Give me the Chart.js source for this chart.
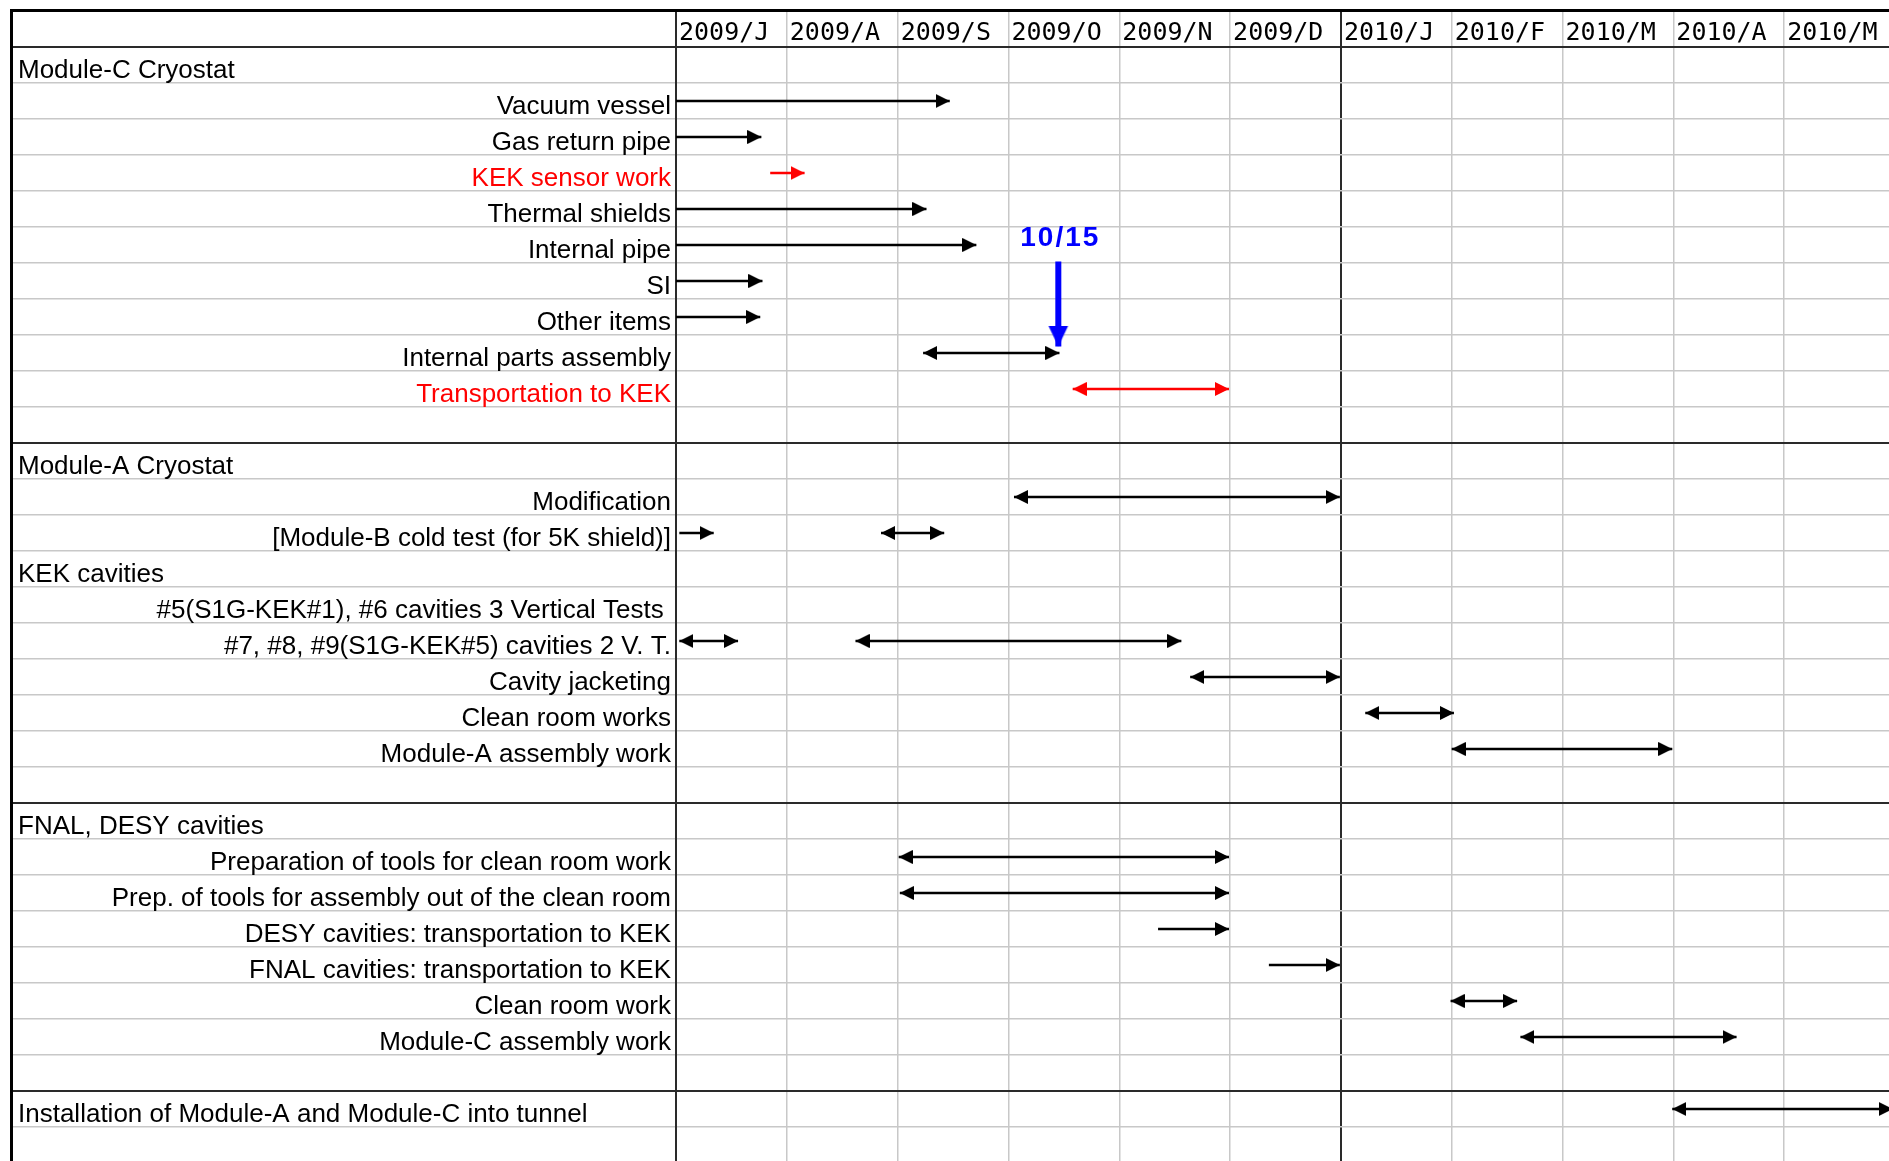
<!DOCTYPE html>
<html>
<head>
<meta charset="utf-8">
<title>Schedule</title>
<script src="https://cdn.jsdelivr.net/npm/chart.js@4/dist/chart.umd.min.js"></script>
<style>
  html, body { margin: 0; padding: 0; overflow: hidden; background: #fff; }
  #sheet { position: absolute; left: 10px; top: 9px; border-left: 3px solid #000; border-top: 3px solid #000; }
  canvas { display: block; }
</style>
</head>
<body>
<div id="sheet"><canvas id="plan" width="1882" height="1151" style="width:1882px;height:1151px"></canvas></div>
<script>
// months counted from 1 Jul 2009
const monthLabels = ['2009/J', '2009/A', '2009/S', '2009/O', '2009/N', '2009/D', '2010/J', '2010/F', '2010/M', '2010/A', '2010/M'];

const rowLabels = [
  '', 'Vacuum vessel', 'Gas return pipe', 'KEK sensor work', 'Thermal shields', 'Internal pipe', 'SI', 'Other items',
  'Internal parts assembly', 'Transportation to KEK', '',
  '', 'Modification', '[Module-B cold test (for 5K shield)]', '', '#5(S1G-KEK#1), #6 cavities 3 Vertical Tests ',
  '#7, #8, #9(S1G-KEK#5) cavities 2 V. T.', 'Cavity jacketing', 'Clean room works', 'Module-A assembly work', '',
  '', 'Preparation of tools for clean room work', 'Prep. of tools for assembly out of the clean room',
  'DESY cavities: transportation to KEK', 'FNAL cavities: transportation to KEK', 'Clean room work', 'Module-C assembly work', '',
  '', ''
];
const sectionRows = [0, 11, 14, 21, 29];
const sectionNames = ['Module-C Cryostat', 'Module-A Cryostat', 'KEK cavities', 'FNAL, DESY cavities', 'Installation of Module-A and Module-C into tunnel'];
const redRows = [3, 9];
const darkRowLines = [0, 11, 21, 29];
const darkMonthLines = [0, 6];

const taskRow   = [1, 2, 3, 4, 5, 6, 7, 8, 9, 12, 13, 13, 16, 16, 17, 18, 19, 22, 23, 24, 25, 26, 27, 29];
const taskStart = [0, 0, 0.85, 0, 0, 0, 0, 2.23, 3.58, 3.05, 0.03, 1.85, 0.03, 1.62, 4.64, 6.22, 7.0, 2.01, 2.02, 4.35, 5.35, 6.99, 7.62, 8.99];
const taskEnd   = [2.47, 0.77, 1.16, 2.26, 2.71, 0.78, 0.76, 3.46, 4.99, 5.99, 0.34, 2.42, 0.56, 4.56, 5.99, 7.02, 8.99, 4.99, 4.99, 4.99, 5.99, 7.59, 9.57, 10.98];
const taskBoth  = [0, 0, 0, 0, 0, 0, 0, 1, 1, 1, 0, 1, 1, 1, 1, 1, 1, 1, 1, 0, 0, 1, 1, 1];
const taskRed   = [0, 0, 1, 0, 0, 0, 0, 0, 1, 0, 0, 0, 0, 0, 0, 0, 0, 0, 0, 0, 0, 0, 0, 0];

const milestoneText = '10/15';
const milestoneX = 3.45;
const milestoneTop = 5.46;
const milestoneTip = 7.82;
const milestoneTextY = 5.03;

const sectionLabels = rowLabels.map((_, i) => {
  const k = sectionRows.indexOf(i);
  return k >= 0 ? sectionNames[k] : '';
});

function makeHead(color, len, half) {
  const c = document.createElement('canvas');
  c.width = len * 2;
  c.height = half * 2 + 2;
  const g = c.getContext('2d');
  g.fillStyle = color;
  g.beginPath();
  g.moveTo(0, 1);
  g.lineTo(len, half + 1);
  g.lineTo(0, half * 2 + 1);
  g.closePath();
  g.fill();
  return c;
}

const heads = { black: makeHead('#000', 14, 7), red: makeHead('#ff0000', 14, 7), blue: makeHead('#0000ff', 21, 10) };

const datasets = taskRow.map((row, i) => {
  const color = taskRed[i] ? '#ff0000' : '#000';
  const head = taskRed[i] ? heads.red : heads.black;
  return {
    data: [{ x: taskStart[i], y: row }, { x: taskEnd[i], y: row }],
    xAxisID: 'x',
    yAxisID: 'yv',
    borderColor: color,
    borderWidth: 2.5,
    pointStyle: [head, head],
    pointRotation: [180, 0],
    pointRadius: [taskBoth[i] ? 7 : 0, 7],
    tension: 0
  };
});

datasets.push({
  data: [{ x: milestoneX, y: milestoneTop }, { x: milestoneX, y: milestoneTip }],
  xAxisID: 'x',
  yAxisID: 'yv',
  borderColor: '#0000ff',
  borderWidth: 6,
  pointStyle: [heads.blue, heads.blue],
  pointRotation: [90, 90],
  pointRadius: [0, 10]
});

const milestoneNote = {
  id: 'milestoneNote',
  afterDatasetsDraw(chart) {
    const ctx = chart.ctx;
    const x = chart.scales.x.getPixelForValue(milestoneX);
    const y = chart.scales.yv.getPixelForValue(milestoneTextY);
    ctx.save();
    ctx.font = 'bold 28px "Liberation Sans"';
    ctx.letterSpacing = '2px';
    ctx.fillStyle = '#0000ff';
    ctx.textAlign = 'center';
    ctx.textBaseline = 'alphabetic';
    ctx.fillText(milestoneText, x + 2, y);
    ctx.restore();
  }
};

const dark = '#2a2a2a';
const light = '#c8c8c8';
const labelFont = { family: 'Liberation Sans', size: 26, lineHeight: 1 };

// fixed sizes, no extra edge padding from tick labels
function pinSize(w, h) {
  return s => {
    if (w !== null) s.width = w;
    if (h !== null) s.height = h;
    s.paddingTop = s.paddingBottom = s.paddingLeft = s.paddingRight = 0;
  };
}

new Chart(document.getElementById('plan'), {
  type: 'line',
  data: { datasets },
  options: {
    responsive: false,
    devicePixelRatio: 1,
    animation: false,
    events: [],
    layout: { padding: 0, autoPadding: false },
    plugins: { legend: { display: false }, tooltip: { enabled: false } },
    scales: {
      x: {
        type: 'linear',
        position: 'top',
        min: 0,
        max: 11,
        afterBuildTicks: s => { s.ticks = Array.from({ length: 12 }, (_, i) => ({ value: i })); },
        afterFit: pinSize(null, 35),
        ticks: {
          callback: (v, i) => monthLabels[i] || '',
          align: 'start',
          labelOffset: 3,
          padding: -34,
          autoSkip: false,
          minRotation: 0,
          maxRotation: 0,
          color: '#000',
          font: { family: 'DejaVu Sans Mono', size: 25, lineHeight: 1 }
        },
        grid: {
          drawTicks: true,
          tickLength: 35,
          color: c => darkMonthLines.includes(c.index) ? dark : light,
          lineWidth: c => darkMonthLines.includes(c.index) ? 2 : 1.5
        },
        border: { display: true, color: dark, width: 2 }
      },
      y: {
        type: 'category',
        labels: rowLabels,
        position: 'left',
        weight: 0,
        offset: true,
        afterFit: pinSize(663, null),
        ticks: {
          autoSkip: false,
          padding: -658,
          labelOffset: 6,
          font: labelFont,
          color: c => redRows.includes(c.index) ? '#ff0000' : '#000'
        },
        grid: {
          offset: true,
          drawTicks: true,
          tickLength: 663,
          color: c => darkRowLines.includes(c.index) ? dark : light,
          lineWidth: c => darkRowLines.includes(c.index) ? 2 : 1.5
        },
        border: { display: true, color: dark, width: 2 }
      },
      ySec: {
        type: 'category',
        labels: sectionLabels,
        position: 'left',
        weight: 10,
        offset: true,
        afterFit: pinSize(0, null),
        ticks: { autoSkip: false, mirror: true, padding: 5, labelOffset: 6, font: labelFont, color: '#000' },
        grid: { display: false },
        border: { display: false }
      },
      yv: {
        type: 'linear',
        display: false,
        min: -0.5,
        max: 30.5,
        reverse: true
      }
    }
  },
  plugins: [milestoneNote]
});
</script>
</body>
</html>
